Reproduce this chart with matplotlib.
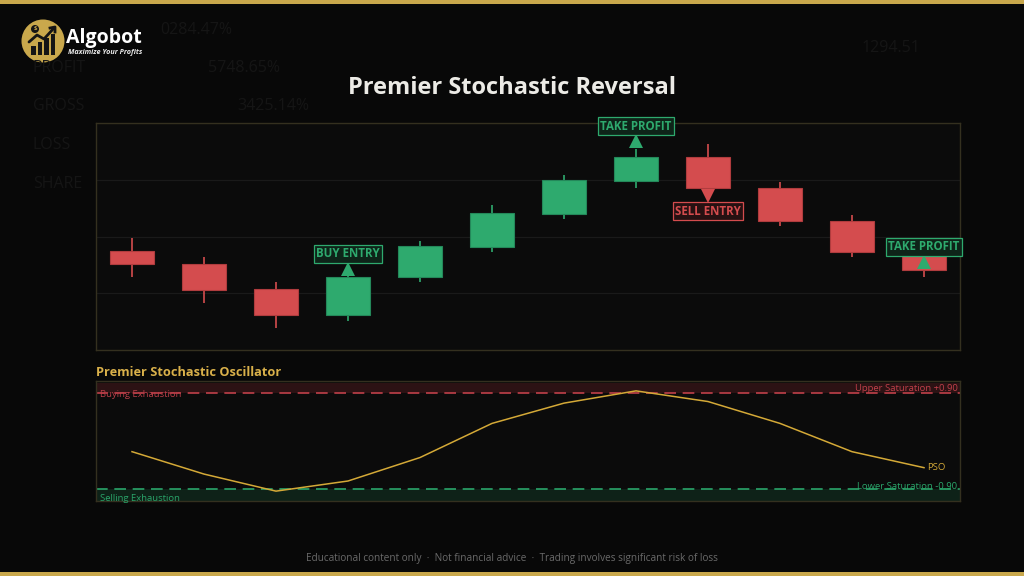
import matplotlib
matplotlib.use("Agg")
import matplotlib.pyplot as plt
import matplotlib.patches as mpatches
from matplotlib.transforms import offset_copy
import numpy as np

plt.rcParams["font.family"] = ["Open Sans", "DejaVu Sans"]

# Candle data
opens = [103.48, 103.03, 102.14, 101.23, 102.57, 103.64, 104.80, 105.97, 106.79, 105.72, 104.56, 103.43]
closes = [103.02, 102.11, 101.23, 102.58, 103.65, 104.82, 105.99, 106.79, 105.70, 104.55, 103.46, 102.83]
highs = [103.94, 103.29, 102.41, 102.75, 103.84, 105.11, 106.17, 107.07, 107.25, 105.92, 104.75, 103.63]
lows = [102.58, 101.67, 100.79, 101.03, 102.40, 103.46, 104.63, 105.71, 105.53, 104.37, 103.29, 102.58]

# Premier Stochastic Oscillator values
pso = [-0.20, -0.62, -0.94, -0.75, -0.31, 0.33, 0.71, 0.94, 0.74, 0.33, -0.20, -0.50]
upper_sat = 0.90
lower_sat = -0.90

# Signals: candle index, label, direction
signal_idx = [3, 7, 8, 11]
signal_text = ["BUY ENTRY", "TAKE PROFIT", "SELL ENTRY", "TAKE PROFIT"]
signal_dir = ["up", "up", "down", "up"]

GREEN = "#2eaa6e"
RED = "#d44c4e"
GOLD = "#c9a84c"
BG = "#080808"
PANEL = "#0b0b0b"
BORDER = "#34301f"

fig = plt.figure(figsize=(10.24, 5.76), dpi=100, facecolor=BG)

# background / decoration layer in pixel coordinates
bg = fig.add_axes([0, 0, 1, 1], zorder=0)
bg.set_xlim(0, 1024)
bg.set_ylim(576, 0)
bg.axis("off")
bg.add_patch(mpatches.Rectangle((0, 0), 1024, 4, color=GOLD, lw=0))
bg.add_patch(mpatches.Rectangle((0, 572), 1024, 4, color=GOLD, lw=0))

faint = "#151515"
for txt, x, y in [("0284.47%", 160, 30), ("PROFIT", 33, 68),
                  ("5748.65%", 208, 68), ("GROSS", 33, 106), ("3425.14%", 237, 106),
                  ("LOSS", 33, 145), ("SHARE", 33, 184), ("1294.51", 862, 48)]:
    bg.text(x, y, txt, color=faint, fontsize=11.5, va="center", ha="left")

# logo
bg.add_patch(mpatches.Circle((43, 41), 21.5, color=GOLD, lw=0))
for bx, bh in [(31, 9), (37.5, 13), (44, 17), (50.5, 21)]:
    bg.add_patch(mpatches.Rectangle((bx, 55 - bh), 4.5, bh, color="#151515", lw=0))
bg.plot([29, 37, 44, 54], [42, 35, 39, 28], color="#151515", lw=2, solid_capstyle="round")
bg.plot([50, 55, 55], [28, 27, 32], color="#151515", lw=2)
bg.add_patch(mpatches.Circle((35, 29), 4, color="#151515", lw=0))
bg.text(35, 29, "$", color=GOLD, fontsize=4.5, ha="center", va="center", fontweight="bold")
bg.text(66, 38, "Algobot", color="white", fontsize=14, fontweight="bold", ha="left", va="center")
bg.text(68, 53, "Maximize Your Profits", color="#e8e8e8", fontsize=5.2, fontweight="bold",
        fontstyle="italic", ha="left", va="center")

# titles and footer
bg.text(512, 88, "Premier Stochastic Reversal", color="#ecebe6", fontsize=17,
        fontweight="bold", ha="center", va="center")
bg.text(96, 373, "Premier Stochastic Oscillator", color="#d9b04a", fontsize=9.2,
        fontweight="bold", ha="left", va="center")
bg.text(512, 558, "Educational content only  ·  Not financial advice  ·  Trading involves significant risk of loss",
        color="#6a6a6a", fontsize=7.2, ha="center", va="center")

# price panel
ax = fig.add_axes([96 / 1024, (576 - 350) / 576, 864 / 1024, 227 / 576], zorder=1)
ax.set_facecolor(PANEL)
x = np.arange(len(opens))
ax.set_xlim(-0.5, len(opens) - 0.5)
ax.set_ylim(100, 108)
for g in [102, 104, 106]:
    ax.axhline(g, color="#1a1a1a", lw=0.9, zorder=0)

for i in x:
    up = closes[i] >= opens[i]
    c = GREEN if up else RED
    ec = "#24885a" if up else "#b03c3e"
    ax.vlines(i, lows[i], highs[i], color=c, lw=1.2, zorder=2)
    lo = min(opens[i], closes[i])
    ax.bar(i, abs(closes[i] - opens[i]), bottom=lo, width=0.6, color=c,
           edgecolor=ec, linewidth=0.8, zorder=3)

# signal markers, offsets in pixels from the candle high / low / close
marker_off = [3, 8, -3, 8]
label_off = [18, 23, -18, 23]
signal_ref = [highs[3], highs[7], lows[8], closes[11]]
for k, i in enumerate(signal_idx):
    col = GREEN if signal_dir[k] == "up" else RED
    face = "#0e2419" if signal_dir[k] == "up" else "#261112"
    mk = "^" if signal_dir[k] == "up" else "v"
    tr_m = offset_copy(ax.transData, fig=fig, x=0, y=marker_off[k], units="dots")
    ax.plot(i, signal_ref[k], marker=mk, color=col, ms=10, mew=0, transform=tr_m,
            zorder=5, clip_on=False)
    tr_l = offset_copy(ax.transData, fig=fig, x=0, y=label_off[k], units="dots")
    ax.text(i, signal_ref[k], signal_text[k], transform=tr_l, color=col, fontsize=8.3,
            fontweight="bold", ha="center", va="center", zorder=6, clip_on=False,
            bbox=dict(boxstyle="square,pad=0.22", facecolor=face, edgecolor=col, lw=0.9))

ax.set_xticks([])
ax.set_yticks([])
for s in ax.spines.values():
    s.set_color(BORDER)
    s.set_linewidth(1)

# oscillator panel
ax2 = fig.add_axes([96 / 1024, 75 / 576, 864 / 1024, 120 / 576], zorder=1)
ax2.set_facecolor(PANEL)
ax2.set_xlim(-0.5, len(opens) - 0.5)
ax2.set_ylim(-1.125, 1.125)
ax2.axhspan(upper_sat, 1.09, color="#2c1214", lw=0, zorder=0)
ax2.axhspan(-1.125, lower_sat, color="#0e2218", lw=0, zorder=0)
ax2.axhline(upper_sat, color="#c0404a", lw=1.2, dashes=(7, 4), zorder=1)
ax2.axhline(lower_sat, color="#2aa56a", lw=1.2, dashes=(7, 4), zorder=1)
ax2.plot(x, pso, color="#d4a937", lw=1.1, zorder=3)
ax2.text(len(pso) - 1 + 0.05, pso[-1], "PSO", color="#d4a937", fontsize=6.8,
         ha="left", va="center")
ax2.text(0.005, upper_sat - 0.03, "Buying Exhaustion", transform=ax2.get_yaxis_transform(),
         color="#b83e48", fontsize=6.8, ha="left", va="center")
ax2.text(0.005, lower_sat - 0.17, "Selling Exhaustion", transform=ax2.get_yaxis_transform(),
         color="#2aa56a", fontsize=6.8, ha="left", va="center")
ax2.text(0.997, upper_sat + 0.08, "Upper Saturation +0.90", transform=ax2.get_yaxis_transform(),
         color="#c0404a", fontsize=6.8, ha="right", va="center")
ax2.text(0.997, lower_sat + 0.05, "Lower Saturation -0.90", transform=ax2.get_yaxis_transform(),
         color="#2aa56a", fontsize=6.8, ha="right", va="center")
ax2.set_xticks([])
ax2.set_yticks([])
for s in ax2.spines.values():
    s.set_color(BORDER)
    s.set_linewidth(1)

fig.savefig("out.png", dpi=100, facecolor=BG)
